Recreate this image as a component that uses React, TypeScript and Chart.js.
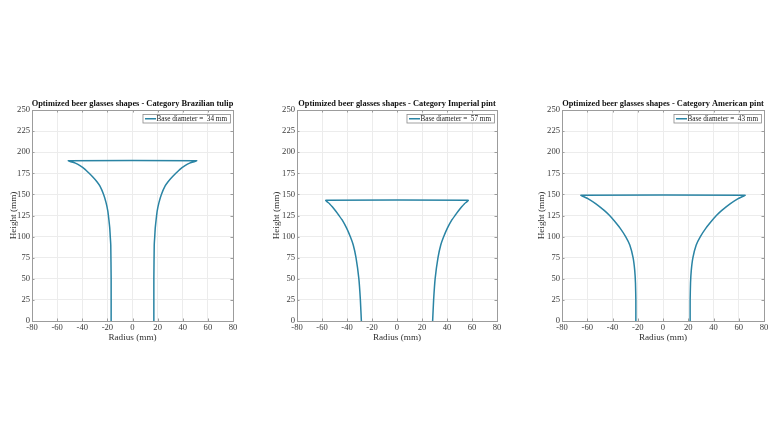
import React, { useEffect, useRef } from 'react';
import { Chart, registerables } from 'chart.js';

Chart.register(...registerables);

// ---- data ----
const chartTitles = [
  'Optimized beer glasses shapes - Category Brazilian tulip',
  'Optimized beer glasses shapes - Category Imperial pint',
  'Optimized beer glasses shapes - Category American pint',
];
const baseDiameters = [34, 57, 43];

const tulipHeights = [0, 50, 90, 100, 110, 120, 130, 140, 150, 160, 165, 170, 175, 180, 184, 187, 190];
const tulipRadii = [17, 17, 17.3, 17.7, 18.1, 18.8, 19.6, 21, 23, 26, 28.3, 31.2, 34.5, 38, 41.8, 45.5, 51];

const imperialHeights = [0, 25, 50, 75, 90, 100, 110, 120, 125, 130, 135, 139, 143];
const imperialRadii = [28.5, 29.3, 30.5, 32.8, 35, 37.4, 40.3, 44, 46.4, 48.9, 51.6, 54, 57];

const americanHeights = [0, 25, 45, 60, 75, 90, 100, 110, 119, 125, 131, 139, 145, 149];
const americanRadii = [21.5, 21.5, 21.8, 22.4, 23.7, 26.3, 29.6, 34.0, 38.8, 42.3, 46.6, 53.4, 59.5, 65];

const radiusTicks = [-80, -60, -40, -20, 0, 20, 40, 60, 80];
const heightTicks = [0, 25, 50, 75, 100, 125, 150, 175, 200, 225, 250];

const profiles = [
  { heights: tulipHeights, radii: tulipRadii },
  { heights: imperialHeights, radii: imperialRadii },
  { heights: americanHeights, radii: americanRadii },
];

// ---- layout (positions only) ----
const panels = [
  { left: 0, axisW: 32, padRight: 27, yTitlePad: 7.6 },
  { left: 260, axisW: 37, padRight: 23, yTitlePad: 10.6 },
  { left: 520, axisW: 42, padRight: 16, yTitlePad: 16.3 },
];
const CANVAS_TOP = 90;
const CANVAS_W = 260;
const CANVAS_H = 260;
const PAD_TOP = 20;
const X_AXIS_H = 29;

const SERIF = '"Liberation Serif", "Times New Roman", Times, serif';
const LINE_COLOR = '#2a84a4';
const AXIS_COLOR = '#9c9c9c';
const GRID_COLOR = '#ececec';

function buildPoints(heights: number[], radii: number[]) {
  const pts: { x: number; y: number }[] = [];
  for (let i = 0; i < heights.length; i++) pts.push({ x: -radii[i], y: heights[i] });
  for (let i = heights.length - 1; i >= 0; i--) pts.push({ x: radii[i], y: heights[i] });
  return pts;
}

const framePlugin = {
  id: 'matlabFrame',
  afterDraw(chart: any, _args: any, opts: any) {
    const { ctx, chartArea: a, scales } = chart;
    ctx.save();
    // box
    ctx.strokeStyle = AXIS_COLOR;
    ctx.lineWidth = 1;
    ctx.strokeRect(Math.round(a.left) + 0.5, Math.round(a.top) + 0.5, Math.round(a.right - a.left), Math.round(a.bottom - a.top));
    // inward ticks
    const tl = 2.5;
    ctx.beginPath();
    radiusTicks.forEach((v) => {
      const px = Math.round(scales.x.getPixelForValue(v)) + 0.5;
      ctx.moveTo(px, a.bottom); ctx.lineTo(px, a.bottom - tl);
      ctx.moveTo(px, a.top); ctx.lineTo(px, a.top + tl);
    });
    heightTicks.forEach((v) => {
      const py = Math.round(scales.y.getPixelForValue(v)) + 0.5;
      ctx.moveTo(a.left, py); ctx.lineTo(a.left + tl, py);
      ctx.moveTo(a.right, py); ctx.lineTo(a.right - tl, py);
    });
    ctx.stroke();
    // title
    ctx.fillStyle = '#111';
    ctx.font = `bold 8.4px ${SERIF}`;
    ctx.textAlign = 'center';
    ctx.textBaseline = 'alphabetic';
    ctx.fillText(opts.title, (a.left + a.right) / 2, a.top - 4);
    // legend
    ctx.font = `7.2px ${SERIF}`;
    const label = opts.legend;
    const tw = ctx.measureText(label).width;
    const bh = 8.5;
    const right = a.right - 2.5;
    const top = a.top + 4.5;
    const bw = tw + 17;
    const left = right - bw;
    ctx.fillStyle = '#ffffff';
    ctx.fillRect(left, top, bw, bh);
    ctx.strokeStyle = '#8a8a8a';
    ctx.lineWidth = 0.8;
    ctx.strokeRect(left, top, bw, bh);
    ctx.strokeStyle = LINE_COLOR;
    ctx.lineWidth = 1.5;
    ctx.beginPath();
    ctx.moveTo(left + 2, top + bh / 2);
    ctx.lineTo(left + 13, top + bh / 2);
    ctx.stroke();
    ctx.fillStyle = '#222';
    ctx.textAlign = 'left';
    ctx.textBaseline = 'middle';
    ctx.fillText(label, left + 13.5, top + bh / 2 + 0.5);
    ctx.restore();
  },
};

function GlassChart({ index }: { index: number }) {
  const ref = useRef<HTMLCanvasElement | null>(null);
  const p = panels[index];
  useEffect(() => {
    if (!ref.current) return;
    const prof = profiles[index];
    const chart = new Chart(ref.current, {
      type: 'scatter',
      data: {
        datasets: [
          {
            label: `Base diameter =  ${baseDiameters[index]} mm`,
            data: buildPoints(prof.heights, prof.radii),
            showLine: true,
            borderColor: LINE_COLOR,
            backgroundColor: LINE_COLOR,
            borderWidth: 1.5,
            pointRadius: 0,
            tension: 0.12,
            borderJoinStyle: 'round',
          },
        ],
      },
      options: {
        animation: false,
        responsive: false,
        maintainAspectRatio: false,
        layout: { padding: { left: 0, top: PAD_TOP, right: p.padRight, bottom: 0 } },
        plugins: {
          legend: { display: false },
          tooltip: { enabled: false },
          title: { display: false },
          matlabFrame: { title: chartTitles[index], legend: `Base diameter =  ${baseDiameters[index]} mm` },
        } as any,
        scales: {
          x: {
            type: 'linear',
            min: -80,
            max: 80,
            afterBuildTicks: (s: any) => { s.ticks = radiusTicks.map((v) => ({ value: v })); },
            afterFit: (s: any) => { s.height = X_AXIS_H; },
            grid: { color: GRID_COLOR, drawTicks: false },
            border: { display: false },
            ticks: { color: '#3a3a3a', padding: 1.5, font: { family: SERIF, size: 8.6 }, maxRotation: 0 },
            title: { display: true, text: 'Radius (mm)', color: '#333', font: { family: SERIF, size: 9.2 }, padding: { top: 0, bottom: 6.4 } },
          },
          y: {
            type: 'linear',
            min: 0,
            max: 250,
            afterBuildTicks: (s: any) => { s.ticks = heightTicks.map((v) => ({ value: v })); },
            afterFit: (s: any) => { s.width = p.axisW; },
            grid: { color: GRID_COLOR, drawTicks: false },
            border: { display: false },
            ticks: { color: '#3a3a3a', padding: 2, font: { family: SERIF, size: 8.6 } },
            title: { display: true, text: 'Height (mm)', color: '#333', font: { family: SERIF, size: 9.2 }, padding: { top: p.yTitlePad, bottom: 0 } },
          },
        },
      },
      plugins: [framePlugin],
    });
    return () => chart.destroy();
  }, [index]);
  return (
    <canvas
      ref={ref}
      width={CANVAS_W}
      height={CANVAS_H}
      style={{ position: 'absolute', left: p.left, top: CANVAS_TOP, width: CANVAS_W, height: CANVAS_H }}
    />
  );
}

export default function App() {
  return (
    <div style={{ position: 'absolute', left: 0, top: 0, width: 780, height: 440, background: '#ffffff', overflow: 'hidden' }}>
      <GlassChart index={0} />
      <GlassChart index={1} />
      <GlassChart index={2} />
    </div>
  );
}
